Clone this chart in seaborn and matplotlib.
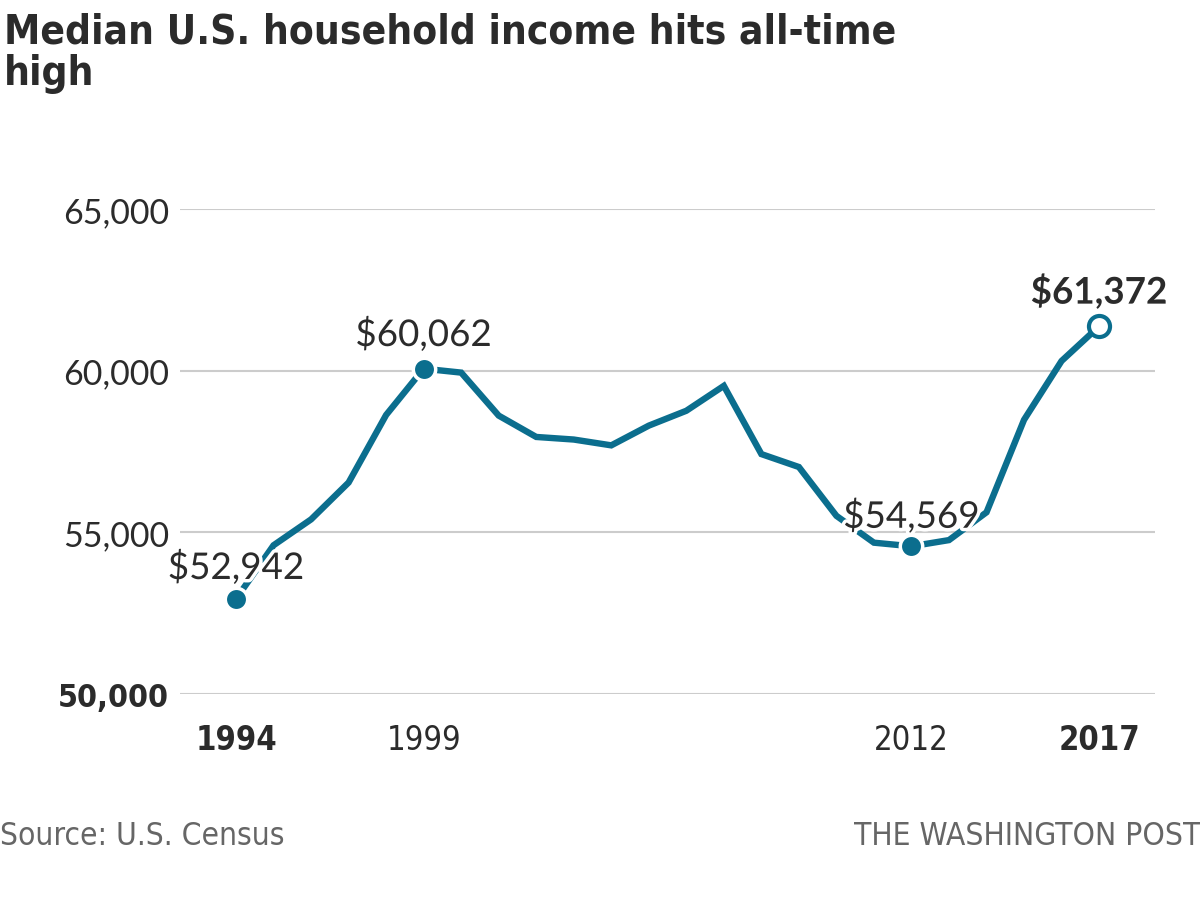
import matplotlib
matplotlib.use("Agg")
import matplotlib.pyplot as plt
import matplotlib.patheffects as pe
import seaborn as sns
import pandas as pd
from matplotlib import font_manager
from matplotlib.font_manager import FontProperties

years = list(range(1994, 2018))
income = [52942, 54600, 55400, 56540, 58630, 60062, 59940, 58610, 57950, 57870,
          57690, 58300, 58760, 59530, 57420, 57020, 55510, 54680, 54569, 54760,
          55620, 58480, 60300, 61372]
yticks = [50000, 55000, 60000, 65000]
xticks = [1994, 1999, 2012, 2017]
labelled_years = [1994, 1999, 2012, 2017]
label_text = ["$52,942", "$60,062", "$54,569", "$61,372"]

title = "Median U.S. household income hits all-time\nhigh"
source = "Source: U.S. Census"
credit = "THE WASHINGTON POST"

sns.set_theme(style="white")
plt.rcParams["font.family"] = ["Lato", "DejaVu Sans"]

files = [f.fname for f in font_manager.fontManager.ttflist]
def find(keys, bold):
    for fn in sorted(files):
        low = fn.lower()
        if any(k in low for k in keys) and ("oblique" not in low and "italic" not in low):
            if bold == ("bold" in low):
                return fn
    return None
cond_bold = find(["sansnarrow", "sans-narrow", "sanscondensed", "condensed"], True)
cond_reg = find(["sansnarrow", "sans-narrow", "sanscondensed", "condensed"], False)

def fp(bold, size):
    path = cond_bold if bold else cond_reg
    if path:
        return FontProperties(fname=path, size=size)
    return FontProperties(family="DejaVu Sans", weight="bold" if bold else "normal",
                          stretch="condensed", size=size)

LINE = "#0b6e8e"
TEXT = "#2b2b2b"

df = pd.DataFrame({"year": years, "income": income})
mark = df[df["year"].isin(labelled_years)].reset_index(drop=True)

fig = plt.figure(figsize=(12, 9.12), dpi=100)
ax = fig.add_axes([0.15, 1 - 695 / 912, 0.8125, (695 - 210) / 912])

sns.lineplot(data=df, x="year", y="income", ax=ax, color=LINE, linewidth=4.6,
             solid_joinstyle="miter", solid_capstyle="butt", zorder=3)
sns.scatterplot(data=mark.iloc[:3], x="year", y="income", ax=ax, color=LINE, s=260,
                edgecolor="white", linewidth=2.5, zorder=4, clip_on=False)
sns.scatterplot(data=mark.iloc[3:], x="year", y="income", ax=ax, color="white", s=230,
                edgecolor=LINE, linewidth=3, zorder=4, clip_on=False)

ax.set_xlim(1992.507, 2018.49)
ax.set_ylim(50000, 65000)
ax.set_yticks(yticks)
ax.set_xticks(xticks)
ax.yaxis.grid(True, color="#cccccc", linewidth=1.5)
ax.xaxis.grid(False)
for s in ax.spines.values():
    s.set_visible(False)
ax.set_xlabel("")
ax.set_ylabel("")
ax.tick_params(axis="both", length=0)
ax.tick_params(axis="y", pad=8)
ax.tick_params(axis="x", pad=21)

ax.set_yticklabels([f"{v:,}" for v in yticks])
for i, t in enumerate(ax.get_yticklabels()):
    if i == 0:
        t.set_fontproperties(fp(True, 23))
    else:
        t.set_fontsize(24.5)
    t.set_color(TEXT)
ax.set_xticklabels([str(v) for v in xticks])
for i, t in enumerate(ax.get_xticklabels()):
    t.set_fontproperties(fp(i in (0, 3), 23.5))
    t.set_color(TEXT)

halo = [pe.withStroke(linewidth=5, foreground="white")]
offsets = [(0, 10), (0, 12), (0, 9), (0, 12)]
for k, (yr, val) in enumerate(zip(mark["year"], mark["income"])):
    ax.annotate(label_text[k], (yr, val), xytext=offsets[k], textcoords="offset points",
                ha="center", va="bottom", fontsize=26.5, color=TEXT,
                fontweight="bold" if k == 3 else "normal",
                path_effects=halo, zorder=5, annotation_clip=False)

fig.text(0.003, 0.986, title, ha="left", va="top", color=TEXT,
         fontproperties=fp(True, 29.2), linespacing=1.05)
fig.text(0.0, 1 - 837 / 912, source, ha="left", va="center", color="#666666",
         fontproperties=fp(False, 22.7))
fig.text(1.0, 1 - 837 / 912, credit, ha="right", va="center", color="#666666",
         fontproperties=fp(False, 22.8))

fig.savefig("out.png", dpi=100, facecolor="white")
